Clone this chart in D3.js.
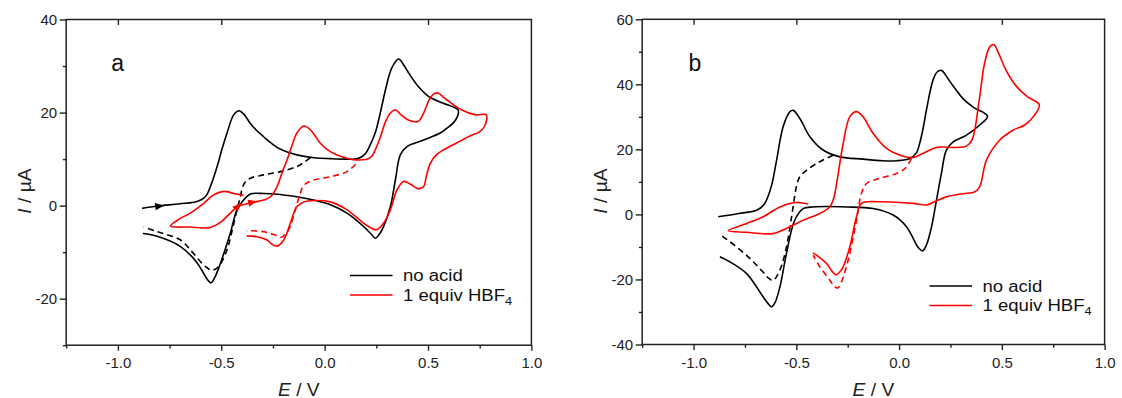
<!DOCTYPE html>
<html><head><meta charset="utf-8">
<script src="https://cdn.jsdelivr.net/npm/d3@7"></script>
<style>
html,body{margin:0;padding:0;background:#fff;}
svg{display:block;font-family:"Liberation Sans",Arial,sans-serif;}
</style></head>
<body>
<svg id="chart" width="1122" height="398"></svg>
<script>
// ---------- DATA (E / V, I / µA) ----------
// Panel a
const aNoAcid = [[-0.883,-0.6],[-0.81,-0.1],[-0.70,0.4],[-0.617,0.9],[-0.585,1.6],[-0.569,2.4],[-0.545,5],[-0.52,8.4],[-0.496,12.2],[-0.472,15.6],[-0.44,19.5],[-0.414,20.4],[-0.39,19.6],[-0.36,17.7],[-0.33,16.2],[-0.295,14.8],[-0.255,13.3],[-0.213,12.1],[-0.134,10.9],[-0.05,10.3],[0.028,10.1],[0.10,10.0],[0.16,10.1],[0.194,11.0],[0.222,13.2],[0.246,15.8],[0.272,20.5],[0.298,25.6],[0.325,29.6],[0.358,31.5],[0.38,30.4],[0.405,28.6],[0.453,25.6],[0.505,23.4],[0.574,22.0],[0.646,20.5],[0.632,18.3],[0.59,16.6],[0.559,15.6],[0.479,14.1],[0.398,12.7],[0.366,10.9],[0.342,5.5],[0.318,-0.2],[0.285,-4.5],[0.262,-6.3],[0.245,-7.0],[0.225,-6.1],[0.189,-4.5],[0.108,-1.6],[0.028,0.2],[-0.053,1.2],[-0.134,1.9],[-0.215,2.4],[-0.295,2.6],[-0.359,2.5],[-0.392,1.2],[-0.424,-0.9],[-0.456,-5.9],[-0.504,-12.4],[-0.53,-15.3],[-0.55,-16.6],[-0.568,-15.8],[-0.585,-14.6],[-0.62,-12.1],[-0.697,-8.8],[-0.81,-6.6],[-0.879,-6.0]];
const aNoAcidRev = [[-0.069,10.3],[-0.1,9.3],[-0.134,8.4],[-0.214,7.3],[-0.295,6.6],[-0.359,5.9],[-0.385,5.0],[-0.398,3.8],[-0.408,1.9],[-0.432,-2.4],[-0.452,-6.2],[-0.472,-9.5],[-0.513,-13.1],[-0.545,-13.9],[-0.57,-13.3],[-0.585,-12.8],[-0.64,-10.0],[-0.697,-7.4],[-0.81,-5.6],[-0.875,-4.6]];
const aAcid = [[-0.392,2.2],[-0.44,2.6],[-0.472,3.0],[-0.495,3.0],[-0.537,2.3],[-0.585,0.5],[-0.65,-1.6],[-0.70,-2.8],[-0.746,-4.4],[-0.65,-4.6],[-0.59,-4.8],[-0.553,-4.7],[-0.504,-3.6],[-0.456,-1.6],[-0.424,-0.3],[-0.359,0.6],[-0.295,1.2],[-0.262,1.9],[-0.23,4.1],[-0.205,7.2],[-0.182,9.8],[-0.158,12.9],[-0.134,15.6],[-0.1,17.1],[-0.069,16.3],[-0.045,14.9],[-0.021,13.4],[0.02,11.8],[0.06,10.9],[0.157,9.8],[0.221,10.3],[0.248,12.3],[0.27,14.8],[0.295,18.1],[0.318,19.9],[0.342,20.6],[0.367,19.6],[0.40,18.5],[0.425,18.1],[0.453,18.1],[0.479,19.9],[0.505,22.7],[0.528,24.0],[0.548,24.2],[0.57,23.5],[0.592,22.7],[0.661,20.6],[0.73,19.5],[0.782,19.5],[0.773,17.0],[0.747,15.8],[0.705,15.0],[0.64,13.5],[0.576,12.0],[0.54,10.9],[0.511,9.1],[0.493,6.5],[0.479,4.1],[0.462,3.7],[0.447,3.7],[0.415,4.6],[0.382,5.2],[0.35,3.4],[0.318,-0.9],[0.285,-3.8],[0.25,-5.2],[0.22,-4.7],[0.189,-3.8],[0.108,-0.9],[0.028,0.8],[-0.053,1.1],[-0.1,0.8],[-0.134,-0.2],[-0.166,-3.8],[-0.198,-7.4],[-0.23,-8.7],[-0.255,-8.3],[-0.279,-7.4],[-0.327,-6.7],[-0.377,-6.5]];
const aAcidRev = [[0.15,8.9],[0.108,7.3],[0.028,6.2],[-0.053,5.5],[-0.1,4.4],[-0.118,2.6],[-0.142,-0.9],[-0.165,-4.3],[-0.186,-6.0],[-0.21,-6.8],[-0.235,-6.4],[-0.295,-5.6],[-0.377,-5.4]];
const aArrowsBlack = [[[-0.85,-0.4],[-0.80,-0.1]]];
const aArrowsRed = [[[-0.45,-1.5],[-0.42,-0.2]],[[-0.40,0.2],[-0.35,0.7]]];

// Panel b
const bNoAcid = [[-0.88,-0.7],[-0.78,0.3],[-0.693,1.3],[-0.66,2.8],[-0.645,4.4],[-0.62,9.0],[-0.596,16.7],[-0.564,27.0],[-0.531,31.6],[-0.515,32.0],[-0.483,29.5],[-0.434,23.9],[-0.37,19.8],[-0.288,17.7],[-0.175,17.0],[-0.08,16.5],[-0.013,16.5],[0.052,17.2],[0.085,19.0],[0.10,21.8],[0.117,26.5],[0.133,32.1],[0.165,41.3],[0.185,43.8],[0.206,44.3],[0.226,42.9],[0.246,41.0],[0.275,38.5],[0.311,35.6],[0.36,33.0],[0.430,30.2],[0.392,27.5],[0.328,24.4],[0.263,22.3],[0.23,19.8],[0.206,12.6],[0.182,4.4],[0.158,-3.8],[0.133,-9.4],[0.114,-11.2],[0.095,-10.3],[0.085,-9.4],[0.036,-3.8],[-0.029,-0.2],[-0.126,1.8],[-0.256,2.3],[-0.418,2.3],[-0.467,1.8],[-0.508,-1.8],[-0.548,-12.0],[-0.58,-22.3],[-0.605,-27.3],[-0.621,-28.4],[-0.64,-27.2],[-0.661,-25.4],[-0.742,-18.2],[-0.823,-14.6],[-0.872,-13.0]];
const bNoAcidRev = [[-0.321,18.2],[-0.386,16.2],[-0.45,13.6],[-0.483,11.6],[-0.498,9.0],[-0.507,6.0],[-0.523,-0.7],[-0.548,-10.0],[-0.58,-17.1],[-0.613,-20.3],[-0.635,-19.6],[-0.661,-17.8],[-0.742,-12.6],[-0.856,-6.9],[-0.872,-6.4]];
const bAcid = [[-0.442,3.2],[-0.48,3.6],[-0.515,3.6],[-0.58,2.3],[-0.661,-0.7],[-0.742,-2.8],[-0.831,-5.0],[-0.742,-5.5],[-0.613,-5.9],[-0.548,-4.3],[-0.467,-1.8],[-0.386,0.3],[-0.337,2.3],[-0.318,5.0],[-0.304,9.5],[-0.272,21.8],[-0.24,30.0],[-0.207,31.6],[-0.175,30.0],[-0.126,24.9],[-0.061,20.3],[0.019,17.9],[0.068,17.5],[0.117,18.8],[0.182,20.6],[0.279,20.6],[0.328,21.0],[0.355,22.9],[0.39,35.2],[0.416,46.5],[0.442,51.6],[0.462,52.2],[0.477,50.6],[0.52,44.4],[0.572,39.3],[0.624,36.2],[0.682,33.8],[0.66,30.6],[0.611,27.5],[0.554,25.9],[0.49,22.9],[0.425,16.7],[0.392,8.5],[0.364,6.8],[0.328,6.5],[0.23,5.4],[0.173,3.9],[0.133,2.9],[0.068,3.4],[-0.094,3.9],[-0.183,3.4],[-0.207,-0.7],[-0.24,-10.0],[-0.272,-16.1],[-0.29,-17.8],[-0.307,-18.6],[-0.325,-17.6],[-0.353,-15.1],[-0.418,-11.8]];
const bAcidRev = [[0.06,17.2],[0.03,14.2],[-0.013,12.6],[-0.094,11.1],[-0.158,9.5],[-0.183,6.5],[-0.207,-1.8],[-0.248,-14.1],[-0.28,-20.7],[-0.298,-22.6],[-0.315,-22.2],[-0.337,-20.2],[-0.386,-16.1],[-0.418,-12.5]];

const xTicks = [-1.0,-0.5,0.0,0.5,1.0];
const xMinor = [-1.25,-0.75,-0.25,0.25,0.75];
const aYTicks = [-20,0,20,40];
const aYMinor = [-30,-10,10,30];
const bYTicks = [-40,-20,0,20,40,60];
const bYMinor = [-30,-10,10,30,50];
const legendLabels = ["no acid","1 equiv HBF"];

// ---------- DRAW ----------
const svg = d3.select("#chart");
const RED = "#ff0000";

function panel(opt){
  const x = d3.scaleLinear().domain([-1.25,1.0]).range([opt.x0,opt.x1]);
  const y = d3.scaleLinear().domain(opt.yDom).range([opt.y0,opt.y1]);
  const g = svg.append("g");
  const fmtX = d => d.toFixed(1);
  const fmtY = d => String(d);

  const bx = g.append("g").attr("transform",`translate(0,${opt.y0})`)
    .call(d3.axisBottom(x).tickValues(xTicks).tickSize(5.5).tickPadding(7).tickFormat(fmtX));
  const bxm = g.append("g").attr("transform",`translate(0,${opt.y0})`)
    .call(d3.axisBottom(x).tickValues(xMinor).tickSize(3.3).tickFormat(""));
  const tx = g.append("g").attr("transform",`translate(0,${opt.y1})`)
    .call(d3.axisTop(x).tickValues(xTicks.slice(0,4)).tickSize(-5.5).tickFormat(""));
  const ly = g.append("g").attr("transform",`translate(${opt.x0},0)`)
    .call(d3.axisLeft(y).tickValues(opt.yTicks).tickSize(6.5).tickPadding(2.5).tickFormat(fmtY));
  const lym = g.append("g").attr("transform",`translate(${opt.x0},0)`)
    .call(d3.axisLeft(y).tickValues(opt.yMinor).tickSize(3.3).tickFormat(""));
  [bx,bxm,tx,ly,lym].forEach(a=>{
    a.select(".domain").remove();
    a.selectAll("line").attr("stroke","#222").attr("stroke-width",1.4);
    a.selectAll("text").attr("fill","#222").style("font-size","15px").attr("font-family","Liberation Sans, Arial, sans-serif");
  });
  g.append("rect").attr("x",opt.x0).attr("y",opt.y1).attr("width",opt.x1-opt.x0).attr("height",opt.y0-opt.y1)
    .attr("fill","none").attr("stroke","#222").attr("stroke-width",1.5);

  const line = d3.line().x(d=>x(d[0])).y(d=>y(d[1])).curve(d3.curveCatmullRom.alpha(0.5));
  const curves = [
    [opt.noAcid,"#000",null],[opt.noAcidRev,"#000","6,4"],
    [opt.acid,RED,null],[opt.acidRev,RED,"6,4"]
  ];
  curves.forEach(([data,col,dash])=>{
    const p = g.append("path").datum(data).attr("d",line).attr("fill","none")
      .attr("stroke",col).attr("stroke-width",1.6).attr("stroke-linejoin","round");
    if(dash) p.attr("stroke-dasharray",dash);
  });

  function arrows(list,col){
    list.forEach(([a,b])=>{
      const x1=x(a[0]),y1=y(a[1]),x2=x(b[0]),y2=y(b[1]);
      const ang = Math.atan2(y2-y1,x2-x1)*180/Math.PI;
      g.append("path").attr("d","M5,0 L-4,-3.6 L-4,3.6 Z").attr("fill",col)
        .attr("transform",`translate(${x2},${y2}) rotate(${ang})`);
    });
  }
  arrows(opt.arrowsBlack||[],"#000");
  arrows(opt.arrowsRed||[],RED);

  g.append("text").attr("x",opt.letterX).attr("y",70.5).attr("text-anchor","middle")
    .style("font-size","23px").attr("fill","#111").text(opt.letter);

  const lg = g.append("g");
  [["#000",opt.legY],[RED,opt.legY+19.5]].forEach(([c,yy],i)=>{
    lg.append("line").attr("x1",opt.legX).attr("x2",opt.legX+42.5).attr("y1",yy).attr("y2",yy)
      .attr("stroke",c).attr("stroke-width",1.6);
    const t = lg.append("text").attr("transform",`translate(${opt.legX+53},${yy+5.5}) scale(1.16,1)`)
      .style("font-size","16px").attr("fill","#111");
    t.append("tspan").text(legendLabels[i]);
    if(i===1) t.append("tspan").attr("dy",4).style("font-size","11px").text("4");
  });

  const cx = (opt.x0+opt.x1)/2;
  const xt = g.append("text").attr("transform",`translate(${cx},395.5) scale(1.1,1)`).attr("text-anchor","middle").style("font-size","17.5px").attr("fill","#222");
  xt.append("tspan").style("font-style","italic").text("E");
  xt.append("tspan").text(" / V");
  const yt = g.append("text").attr("transform",`translate(${opt.x0-35},191) rotate(-90) scale(1.1,1)`).attr("text-anchor","middle").style("font-size","17.5px").attr("fill","#222");
  yt.append("tspan").style("font-style","italic").text("I");
  yt.append("tspan").text(" / µA");
}

panel({x0:66.2,x1:531.4,y0:345.2,y1:19.5,yDom:[-30,40],yTicks:aYTicks,yMinor:aYMinor,
  noAcid:aNoAcid,noAcidRev:aNoAcidRev,acid:aAcid,acidRev:aAcidRev,
  arrowsBlack:aArrowsBlack,arrowsRed:aArrowsRed,letter:"a",letterX:117.7,legX:350,legY:275.5});
panel({x0:642.2,x1:1104.6,y0:344.5,y1:19.3,yDom:[-40,60],yTicks:bYTicks,yMinor:bYMinor,
  noAcid:bNoAcid,noAcidRev:bNoAcidRev,acid:bAcid,acidRev:bAcidRev,
  letter:"b",letterX:695,legX:929.5,legY:286});
</script>
</body></html>
